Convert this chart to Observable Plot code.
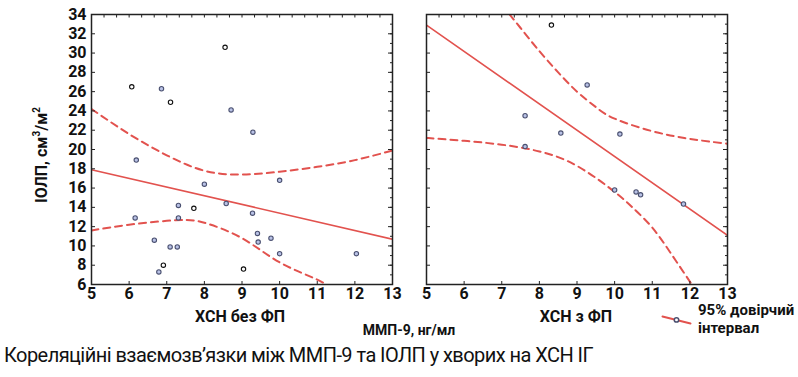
<!DOCTYPE html>
<html><head><meta charset="utf-8">
<script src="https://cdn.jsdelivr.net/npm/d3@7"></script>
<script src="https://cdn.jsdelivr.net/npm/@observablehq/plot@0.6"></script>
<style>
body{margin:0;background:#fff;}
#wrap{position:relative;width:798px;height:377px;overflow:hidden;font-family:Roboto,sans-serif;color:#111;}
.abs{position:absolute;}
.lbl{font-weight:bold;font-size:15px;white-space:nowrap;}
svg text{font-family:Roboto,sans-serif;}
</style></head>
<body><div id="wrap"></div>
<script>
// ---- data ----
const xTicks = [5,6,7,8,9,10,11,12,13];
const yTicks = [6,8,10,12,14,16,18,20,22,24,26,28,30,32,34];

const leftX = [6.07,6.86,7.10,8.55,8.71,9.29,6.19,8.00,10.00,8.58,7.31,7.72,9.28,6.16,7.31,9.41,9.43,9.77,6.67,7.09,7.28,10.00,12.04,6.91,6.79,9.04];
const leftY = [26.5,26.3,24.9,30.6,24.1,21.8,18.9,16.4,16.8,14.4,14.2,13.9,13.4,12.9,12.9,11.3,10.4,10.8,10.6,9.9,9.9,9.2,9.2,8.0,7.3,7.6];
const leftDark = [1,0,1,1,0,0,0,0,0,0,0,1,0,0,0,0,0,0,0,0,0,0,0,1,0,1];

const rightX = [8.32,9.27,7.62,8.57,10.14,7.62,10.00,10.57,10.69,11.83];
const rightY = [32.9,26.7,23.5,21.7,21.6,20.3,15.8,15.6,15.3,14.35];
const rightDark = [1,0,0,0,0,0,0,0,0,0];

const fitLeftX = [5,13], fitLeftY = [17.9,10.7];
const fitRightX = [5,13], fitRightY = [32.9,11.1];

const ciLeftUpX = [5,6,7,8,9,10,11,12,13];
const ciLeftUpY = [24.2,21.6,19.4,17.8,17.4,17.7,18.2,18.9,19.9];
const ciLeftLoX = [5,6,7,7.5,8,9,10,11,11.5];
const ciLeftLoY = [11.6,12.2,12.6,12.7,12.4,10.8,8.3,6.5,5.3];

const ciRightUpX = [7,7.5,8,8.5,9,9.5,10,11,12,13];
const ciRightUpY = [35,32.6,30.2,28,26,24.4,23.2,21.9,21.1,20.6];
const ciRightLoX = [5,6,7,8,9,10,10.5,11,11.5,12,12.3];
const ciRightLoY = [21.2,20.9,20.5,19.8,18.3,15.6,13.9,11.9,9.2,6.3,4.5];

const RED = "#e2524e";
const zip = (xs, ys, extra) => xs.map((x,i)=>({x, y: ys[i], d: extra ? extra[i] : 0}));

function panel({pts, fit, up, lo, showY, left, marginLeft, marginRight, width}) {
  const minorX = d3.range(5, 13.001, 1/3);
  const minorY = d3.range(6, 34.001, 1);
  const noLab = () => "";
  const marks = [
    Plot.line(up, {x:"x", y:"y", stroke: RED, strokeWidth: 2, strokeDasharray: "7,5", curve: "natural", clip: true}),
    Plot.line(lo, {x:"x", y:"y", stroke: RED, strokeWidth: 2, strokeDasharray: "7,5", curve: "natural", clip: true}),
    Plot.line(fit, {x:"x", y:"y", stroke: RED, strokeWidth: 1.6, clip: true}),
    Plot.dot(pts, {x:"x", y:"y", r: 2.2, strokeWidth: 1.1,
      stroke: d => d.d ? "#111" : "#4a5070", fill: d => d.d ? "#fff" : "#b9c2e6"}),
    Plot.frame({stroke:"#222", strokeWidth: 1.5}),
    Plot.axisX(xTicks, {anchor:"bottom", label: null, tickSize: -3, tickPadding: 6, fontSize: 16, fontWeight: "bold", fill:"#111", stroke:"#222"}),
    Plot.axisX(minorX, {anchor:"top", label: null, tickSize: -2.5, tickFormat: noLab, stroke:"#222"}),
    Plot.axisY(minorY, {anchor:"right", label: null, tickSize: -3, tickFormat: noLab, stroke:"#222"}),
    Plot.axisY(yTicks, {anchor:"right", label: null, tickSize: -5, tickFormat: noLab, stroke:"#222"}),
    Plot.axisY(yTicks, {anchor:"left", label: null, tickSize: -4, tickFormat: noLab, stroke:"#222"})
  ];
  if (showY) marks.push(Plot.axisY(yTicks, {anchor:"left", label: null, tickSize: 0, tickPadding: 5, fontSize: 16, fontWeight: "bold", fill:"#111"}));
  const svg = Plot.plot({
    width, height: 305, marginLeft, marginRight, marginTop: 14, marginBottom: 21,
    x: {domain: [5,13]}, y: {domain: [6,34]},
    style: {background: "transparent", overflow: "visible"},
    marks
  });
  svg.style.position = "absolute";
  svg.style.left = left + "px";
  svg.style.top = "0px";
  return svg;
}

const wrap = document.getElementById("wrap");
wrap.appendChild(panel({
  pts: zip(leftX, leftY, leftDark),
  fit: zip(fitLeftX, fitLeftY),
  up: zip(ciLeftUpX, ciLeftUpY), lo: zip(ciLeftLoX, ciLeftLoY),
  showY: true, left: 0, marginLeft: 91, marginRight: 8, width: 400
}));
wrap.appendChild(panel({
  pts: zip(rightX, rightY, rightDark),
  fit: zip(fitRightX, fitRightY),
  up: zip(ciRightUpX, ciRightUpY), lo: zip(ciRightLoX, ciRightLoY),
  showY: false, left: 400, marginLeft: 26, marginRight: 71, width: 398
}));

function addText(html, cls, style) {
  const d = document.createElement("div");
  d.className = "abs " + cls;
  d.innerHTML = html;
  Object.assign(d.style, style);
  wrap.appendChild(d);
  return d;
}
addText("ІОЛП, см<sup style='font-size:10px'>3</sup>/м<sup style='font-size:10px'>2</sup>", "lbl", {left:"41px", top:"155px", transform:"translate(-50%,-50%) rotate(-90deg)", fontSize:"16px"});
addText("ХСН без ФП", "lbl", {left:"240px", top:"316px", transform:"translate(-50%,-50%)", fontSize:"16px"});
addText("ХСН з ФП", "lbl", {left:"576px", top:"316px", transform:"translate(-50%,-50%)", fontSize:"16px"});
addText("ММП-9, нг/мл", "lbl", {left:"409px", top:"330px", transform:"translate(-50%,-50%)", fontSize:"14px"});
addText("95% довірчий<br>інтервал", "lbl", {left:"698px", top:"301px", lineHeight:"18px", fontSize:"15px"});
addText("Кореляційні взаємозв’язки між ММП-9 та ІОЛП у хворих на ХСН ІГ", "", {left:"4px", top:"343px", fontSize:"20px", whiteSpace:"nowrap", letterSpacing:"-0.55px"});

// legend swatch drawn with Plot
const legX = [0,1], legY = [0,-0.35];
const leg = Plot.plot({
  width: 34, height: 18, margin: 3, x:{axis:null, domain:[0,1]}, y:{axis:null, domain:[-0.5,0.1]},
  style:{background:"transparent"},
  marks:[
    Plot.line(zip(legX, legY), {x:"x", y:"y", stroke: RED, strokeWidth: 2}),
    Plot.dot([{x:0.5, y:-0.17}], {x:"x", y:"y", r:2.2, stroke:"#4a5070", fill:"#fff"})
  ]
});
leg.style.position = "absolute"; leg.style.left = "659px"; leg.style.top = "311px";
wrap.appendChild(leg);
</script></body></html>
